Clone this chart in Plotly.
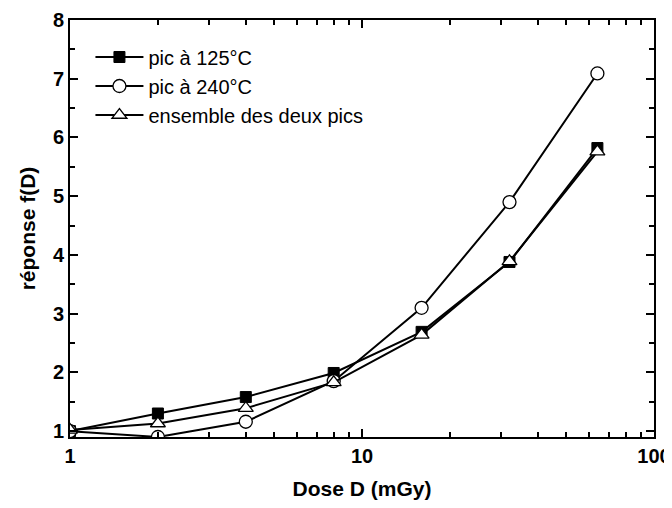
import plotly.graph_objects as go

dose = [1, 2, 4, 8, 16, 32, 64]
pic125 = [1.0, 1.30, 1.58, 1.99, 2.69, 3.88, 5.82]
pic240 = [1.0, 0.90, 1.16, 1.85, 3.10, 4.90, 7.09]
ensemble = [1.02, 1.13, 1.39, 1.83, 2.64, 3.89, 5.76]
names = ["pic à 125°C", "pic à 240°C", "ensemble des deux pics"]

x_ticks = [1, 10, 100]
x_minor = [2, 3, 4, 5, 6, 7, 8, 9, 20, 30, 40, 50, 60, 70, 80, 90]
y_ticks = [1, 2, 3, 4, 5, 6, 7, 8]
y_minor = [1.5, 2.5, 3.5, 4.5, 5.5, 6.5, 7.5]

FONT = "Liberation Sans, Arial, Helvetica"

fig = go.Figure()
fig.add_trace(go.Scatter(x=dose, y=pic125, name=names[0], mode="lines+markers",
                         line=dict(color="black", width=2),
                         marker=dict(symbol="square", size=11, color="black",
                                     line=dict(color="black", width=1))))
fig.add_trace(go.Scatter(x=dose, y=pic240, name=names[1], mode="lines+markers",
                         line=dict(color="black", width=2),
                         marker=dict(symbol="circle", size=13, color="white",
                                     line=dict(color="black", width=1.3))))
fig.add_trace(go.Scatter(x=dose, y=ensemble, name=names[2], mode="lines+markers",
                         line=dict(color="black", width=2),
                         marker=dict(symbol="triangle-up", size=13, color="white",
                                     line=dict(color="black", width=1.3))))

axis_common = dict(showline=True, linecolor="black", linewidth=2, mirror="ticks",
                   ticks="inside", ticklen=8, tickwidth=1.5, tickcolor="black",
                   showgrid=False, zeroline=False, automargin=False,
                   tickfont=dict(family=FONT, size=20, color="black", weight="bold"))

# page body has an 8px default margin, so the figure is sized/offset to compensate
fig.update_layout(
    width=664, height=492,
    paper_bgcolor="white", plot_bgcolor="white",
    margin=dict(l=62, r=18, t=12, b=63),
    font=dict(family=FONT, color="black"),
    xaxis=dict(type="log", range=[0, 2], tickmode="array", tickvals=x_ticks,
               ticktext=[str(v) for v in x_ticks],
               minor=dict(tickmode="array", tickvals=x_minor, ticks="inside",
                          ticklen=5, tickwidth=1.5, tickcolor="black"),
               title=dict(text="Dose D (mGy)", standoff=16,
                          font=dict(size=21, weight="bold", family=FONT)),
               **axis_common),
    yaxis=dict(range=[0.9, 8], tickmode="array", tickvals=y_ticks,
               minor=dict(tickmode="array", tickvals=y_minor, ticks="inside",
                          ticklen=5, tickwidth=1.5, tickcolor="black"),
               title=dict(text="réponse f(D)", standoff=12,
                          font=dict(size=21, weight="bold", family=FONT)),
               **axis_common),
    legend=dict(x=0.035, y=0.958, xanchor="left", yanchor="top",
                bgcolor="rgba(0,0,0,0)", borderwidth=0,
                font=dict(size=20, family=FONT),
                itemwidth=48, tracegroupgap=0),
    showlegend=True,
)

fig.write_html("out.html")
